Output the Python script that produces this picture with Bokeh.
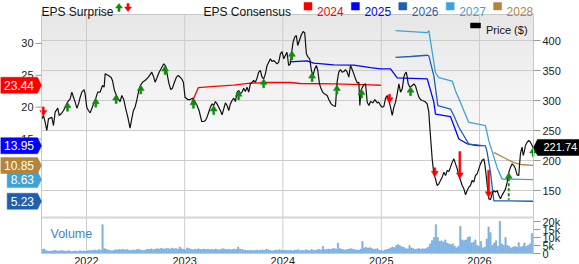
import numpy as np
import pandas as pd
from bokeh.plotting import figure
from bokeh.models import Range1d, Label, PolyAnnotation
from bokeh.core.properties import value
from bokeh.embed import file_html
from bokeh.resources import INLINE

# ---------------- data ----------------
price_year = [
    2021.545, 2021.562, 2021.579, 2021.596, 2021.613, 2021.647, 2021.664, 2021.681, 2021.708, 2021.722,
    2021.742, 2021.766, 2021.783, 2021.810, 2021.834, 2021.851, 2021.868, 2021.885, 2021.902, 2021.919,
    2021.936, 2021.953, 2021.976, 2021.986, 2022.003, 2022.020, 2022.037, 2022.054, 2022.071, 2022.095,
    2022.115, 2022.139, 2022.163, 2022.180, 2022.190, 2022.224, 2022.251, 2022.265, 2022.285, 2022.309,
    2022.326, 2022.343, 2022.360, 2022.380, 2022.400, 2022.421, 2022.444, 2022.461, 2022.478, 2022.495,
    2022.512, 2022.529, 2022.546, 2022.570, 2022.597, 2022.631, 2022.665, 2022.682, 2022.699, 2022.716,
    2022.740, 2022.760, 2022.787, 2022.807, 2022.821, 2022.841, 2022.858, 2022.875, 2022.896, 2022.916,
    2022.936, 2022.970, 2022.987, 2023.004, 2023.031, 2023.055, 2023.079, 2023.099, 2023.123, 2023.147,
    2023.174, 2023.194, 2023.211, 2023.228, 2023.245, 2023.262, 2023.279, 2023.296, 2023.313, 2023.330,
    2023.347, 2023.364, 2023.381, 2023.398, 2023.415, 2023.432, 2023.449, 2023.466, 2023.483, 2023.500,
    2023.517, 2023.534, 2023.551, 2023.567, 2023.584, 2023.601, 2023.618, 2023.635, 2023.652, 2023.669,
    2023.686, 2023.703, 2023.720, 2023.737, 2023.754, 2023.771, 2023.788, 2023.805, 2023.822, 2023.839,
    2023.856, 2023.873, 2023.890, 2023.907, 2023.924, 2023.941, 2023.958, 2023.975, 2023.992, 2024.009,
    2024.025, 2024.042, 2024.059, 2024.076, 2024.090, 2024.104, 2024.120, 2024.137, 2024.151, 2024.168,
    2024.185, 2024.205, 2024.222, 2024.239, 2024.256, 2024.273, 2024.290, 2024.307, 2024.324, 2024.341,
    2024.355, 2024.372, 2024.389, 2024.405, 2024.422, 2024.450, 2024.467, 2024.490, 2024.511, 2024.534,
    2024.551, 2024.568, 2024.585, 2024.602, 2024.619, 2024.636, 2024.653, 2024.670, 2024.687, 2024.704,
    2024.721, 2024.738, 2024.755, 2024.772, 2024.782, 2024.796, 2024.823, 2024.840, 2024.857, 2024.874,
    2024.891, 2024.914, 2024.935, 2024.958, 2024.975, 2024.992, 2025.009, 2025.026, 2025.043, 2025.060,
    2025.077, 2025.094, 2025.111, 2025.128, 2025.145, 2025.162, 2025.179, 2025.196, 2025.213, 2025.230,
    2025.240, 2025.254, 2025.264, 2025.274, 2025.291, 2025.315, 2025.332, 2025.349, 2025.366, 2025.383,
    2025.400, 2025.417, 2025.444, 2025.467, 2025.484, 2025.495, 2025.508, 2025.518, 2025.535, 2025.552,
    2025.569, 2025.586, 2025.603, 2025.620, 2025.637, 2025.654, 2025.671, 2025.688, 2025.705, 2025.722,
    2025.739, 2025.756, 2025.773, 2025.790, 2025.807, 2025.824, 2025.841, 2025.858, 2025.874, 2025.891,
    2025.908, 2025.925, 2025.942, 2025.959, 2025.976, 2025.993, 2026.010, 2026.027, 2026.044, 2026.054,
    2026.068, 2026.081, 2026.095, 2026.112, 2026.129, 2026.146, 2026.163, 2026.180, 2026.197, 2026.214,
    2026.231, 2026.248, 2026.265, 2026.282, 2026.299, 2026.316, 2026.333, 2026.349, 2026.366, 2026.383,
    2026.400, 2026.407, 2026.417, 2026.428, 2026.434, 2026.445, 2026.455, 2026.468, 2026.485, 2026.502,
    2026.519, 2026.536, 2026.546,
]
price_usd = [
    269.4, 275.0, 263.9, 250.0, 269.4, 272.2, 258.3, 280.5, 287.2, 275.0,
    277.8, 283.3, 288.9, 298.3, 302.8, 313.9, 305.5, 297.2, 287.2, 294.4,
    305.5, 313.9, 318.3, 311.1, 288.9, 283.3, 279.4, 286.1, 294.4, 303.9,
    313.9, 314.0, 325.0, 322.2, 344.4, 341.6, 338.3, 333.3, 316.7, 307.2,
    301.6, 298.3, 308.3, 301.6, 286.1, 272.2, 253.9, 269.4, 283.3, 288.9,
    300.0, 313.9, 323.9, 330.5, 333.3, 338.9, 347.2, 340.5, 330.5, 337.2,
    347.2, 352.8, 361.1, 357.2, 344.4, 327.8, 318.3, 320.5, 330.5, 338.9,
    341.6, 336.1, 330.5, 305.5, 301.6, 301.6, 303.9, 300.0, 292.8, 283.3,
    265.0, 265.0, 266.7, 272.2, 280.5, 288.9, 294.4, 291.6, 298.3, 294.4,
    288.9, 283.3, 276.1, 286.1, 296.1, 291.6, 283.3, 294.4, 300.0, 303.9,
    298.3, 313.9, 316.6, 311.1, 313.9, 320.5, 315.0, 322.2, 313.9, 327.8,
    330.5, 333.3, 330.5, 337.2, 347.2, 350.0, 338.9, 336.1, 344.4, 358.3,
    363.9, 369.4, 365.0, 366.6, 363.9, 361.1, 363.9, 377.8, 381.6, 369.4,
    375.0, 380.5, 358.3, 361.1, 380.5, 397.2, 405.5, 408.3, 391.6, 400.0,
    408.3, 415.0, 412.8, 377.8, 372.2, 369.4, 350.0, 341.6, 352.8, 358.3,
    350.0, 327.8, 319.4, 313.9, 311.1, 308.3, 301.6, 294.4, 291.6, 290.0,
    330.5, 347.2, 351.6, 347.2, 348.3, 351.6, 347.2, 338.9, 358.3, 351.6,
    344.4, 336.1, 329.4, 330.5, 291.6, 318.3, 326.1, 327.8, 297.2, 291.6,
    298.3, 296.1, 301.6, 296.1, 297.2, 291.6, 288.9, 290.0, 303.9, 308.3,
    300.0, 288.9, 275.0, 288.9, 297.2, 311.1, 327.8, 313.9, 319.4, 338.9,
    344.4, 347.2, 338.9, 327.8, 322.2, 325.0, 327.8, 323.9, 313.9, 305.5,
    301.6, 300.0, 298.3, 294.4, 280.5, 252.8, 225.0, 202.8, 177.8, 169.4,
    158.3, 161.1, 166.6, 172.2, 180.5, 175.0, 183.3, 181.6, 188.9, 197.2,
    202.8, 194.4, 186.1, 175.0, 166.6, 158.3, 152.8, 142.7, 149.9, 155.5,
    158.3, 166.6, 163.9, 175.0, 177.8, 186.1, 194.4, 200.0, 202.8, 194.4,
    175.0, 155.5, 136.1, 135.0, 144.4, 149.9, 147.2, 149.9, 141.6, 136.1,
    142.7, 147.2, 152.7, 163.9, 180.5, 188.9, 194.4, 191.6, 186.1, 176.1,
    175.0, 191.6, 211.1, 219.4, 222.2, 208.3, 213.9, 225.0, 230.5, 233.3,
    230.5, 225.0, 221.74,
]

eps2024_year = [2023.072, 2023.140, 2023.300, 2023.499, 2023.669, 2023.850, 2024.076, 2024.178, 2024.517, 2024.891, 2024.995]
eps2024 = [20.7, 23.08, 23.25, 23.45, 23.76, 23.87, 23.87, 23.71, 23.66, 23.5, 23.44]

eps2025_year = [2024.069, 2024.246, 2024.313, 2024.517, 2024.721, 2024.891, 2024.992, 2025.094, 2025.162, 2025.468,
                2025.535, 2025.552, 2025.705, 2025.790, 2025.874, 2025.975, 2026.030]
eps2025 = [27.1, 27.25, 26.9, 26.65, 26.6, 26.2, 26.0, 26.0, 24.6, 24.45,
           20.8, 18.9, 18.5, 15.0, 14.25, 13.98, 13.95]

eps2026_year = [2025.145, 2025.298, 2025.468, 2025.484, 2025.535, 2025.576, 2025.705, 2025.739, 2025.790, 2025.891,
                2026.061, 2026.078, 2026.112, 2026.146, 2026.546]
eps2026 = [27.8, 27.95, 28.15, 28.05, 24.9, 20.25, 19.7, 18.65, 16.85, 14.2,
           13.93, 12.9, 9.75, 5.3, 5.23]

eps2027_year = [2025.145, 2025.468, 2025.484, 2025.552, 2025.586, 2025.722, 2025.756, 2025.807, 2025.891, 2026.061,
                2026.095, 2026.180, 2026.231, 2026.546]
eps2027 = [32.0, 31.7, 32.0, 25.4, 24.65, 24.1, 22.55, 20.7, 17.6, 17.1,
           14.7, 10.5, 8.7, 8.63]

eps2028_year = [2026.146, 2026.265, 2026.349, 2026.417, 2026.546]
eps2028 = [12.9, 11.94, 11.3, 11.0, 10.85]

surprise_year = [2021.560, 2021.807, 2022.095, 2022.302, 2022.553, 2022.801, 2023.089, 2023.296, 2023.550, 2023.805,
                 2024.092, 2024.297, 2024.549, 2024.799, 2025.084, 2025.298, 2025.545, 2025.800, 2026.093, 2026.298,
                 2026.546]
surprise_dir = ["down", "up", "up", "up", "up", "up", "up", "up", "up", "up",
                "up", "up", "up", "up", "down", "up", "down", "down", "down", "up",
                "up"]
surprise_big = [False] * 17 + [True, True, True, False]
surprise_dashed = [False] * 19 + [True, False]

volume_start_year = 2021.55
volume_k = (
    [2.5, 2.8, 1.8, 1.5, 1.4, 1.6, 1.7, 2.0, 1.6, 1.5, 1.8, 1.7, 1.5, 1.4, 1.9, 1.3, 1.2, 1.6, 1.5, 1.3, 1.8, 1.4, 1.6, 1.3]
    + [1.6, 1.9, 1.7, 2.0, 2.2, 1.8, 2.4, 2.0, 18.0, 3.0, 2.6, 2.2, 1.8, 1.6, 2.0, 2.4, 2.2, 2.5, 2.3, 2.6, 2.2, 2.5, 2.0, 1.8, 2.2, 2.0, 2.3, 2.6, 2.2]
    + [2.0, 1.8, 2.3, 2.7, 2.5, 2.9, 2.4, 2.6, 3.0, 2.8, 3.2, 3.0, 2.7, 3.3, 3.0, 2.8, 3.4, 2.9, 3.1, 2.6, 4.0, 2.9, 2.5, 2.2]
    + [3.5, 3.0, 2.6, 2.3, 2.7, 2.5, 2.9, 2.4, 2.6, 2.8, 2.5, 2.7, 2.4, 2.6, 2.3, 2.8, 2.5, 2.2, 2.6, 3.0, 2.7, 2.4, 2.6, 2.3, 2.5, 2.8, 2.4, 4.0]
    + [2.8, 2.5, 2.2, 2.0, 1.8, 2.0, 1.9, 1.7, 1.9, 2.1, 1.8, 2.0, 2.2, 1.9, 2.6, 2.3, 1.9, 1.6, 1.8, 2.2, 1.9, 2.4, 2.0, 1.8, 2.1, 1.9]
    + [1.8, 2.0, 1.6, 2.2, 1.9, 2.4, 1.7, 2.0, 1.8, 2.3, 2.0, 1.7, 2.5, 2.1, 1.9, 2.3, 2.6, 2.2, 4.4, 2.4, 2.6, 2.8, 2.5, 2.9, 3.2, 2.7, 6.5]
    + [3.0, 2.7, 2.4, 2.2, 2.5, 2.8, 3.0, 2.6, 2.4, 2.2, 2.0, 2.6, 7.5, 3.5, 3.8, 3.4, 3.6, 3.2, 2.5, 2.8, 3.0, 1.8, 2.0, 1.6, 2.2]
    + [2.5, 2.8, 3.5, 4.0, 3.6, 5.0, 5.6, 4.8, 4.2, 3.8, 3.0, 2.8, 5.0]
    + [3.5, 3.0, 2.5, 2.8, 3.2, 2.6, 3.0, 2.8, 3.2, 4.0, 6.0, 8.0, 10.0, 18.0]
    + [10.0, 7.5, 8.0, 7.0, 8.5, 6.5, 6.0, 5.5, 6.0, 4.5, 3.5, 4.5, 17.0]
    + [8.5, 8.0, 8.5, 10.0, 10.5, 6.5, 7.0, 8.5, 5.0]
    + [4.4, 7.5, 3.5, 4.0, 9.0, 16.5, 13.0, 5.0, 6.5, 8.0, 4.5, 20.0, 6.0, 5.0, 10.0, 5.0, 4.4, 3.5, 4.0, 4.4,
       4.0, 6.7, 4.0, 4.5, 6.5, 4.4, 5.0, 6.0, 12.5]
)

consensus_years = ["2024", "2025", "2026", "2027", "2028"]
consensus_final = [23.44, 13.95, 5.23, 8.63, 10.85]
last_price = 221.74
year_ticks = [2022, 2023, 2024, 2025, 2026]
eps_ticks = [15, 20, 25, 30]
price_ticks = [150, 200, 250, 300, 350, 400]
volume_ticks_k = [0, 5, 10, 15, 20]

# ---------------- styling / geometry ----------------
C_2024, C_2025, C_2026, C_2027, C_2028 = "#ff0000", "#0000ff", "#1f5fae", "#3fa2d6", "#b5843c"
cons_colors = [C_2024, C_2025, C_2026, C_2027, C_2028]
GREEN, RED = "#118a11", "#ff0000"
FONT = "Liberation Sans"
GRID = "#cccccc"

W, H = 579, 264
FL, FR, FT, FB = 41, 533, 14, 253   # plot-area box inside the canvas (px)


def yr2ms(y):
    yi = int(np.floor(y))
    a = pd.Timestamp(yi, 1, 1)
    b = pd.Timestamp(yi + 1, 1, 1)
    return (a + (b - a) * (y - yi)).value / 1e6


XL, XR = yr2ms(2021.542), yr2ms(2026.550)   # dates at the plot-area edges
MSPX = (XR - XL) / (FR - FL)


def X(px):
    return XL + (px - FL) * MSPX


def U(py):
    return H - py


# price scale: 400 at y=40, 30px per 50
P_PX = 5.0 / 3.0
P_AT0 = 400 - U(40) * P_PX
# eps scale: 15 at y=138.5, 6.37 px per unit
E_PX = 6.37
E_AT0 = 15 - U(138.5) / E_PX
# volume scale: 0 at y=253, 20k at y=221
V_PX = 32 / 20.0
V_AT0 = -U(253) / V_PX


def eps_u(v):
    return (v - E_AT0) * E_PX


def price_u(v):
    return (v - P_AT0) / P_PX


p = figure(width=W, height=H, x_range=Range1d(X(0), X(W)), y_range=Range1d(0, H),
           x_axis_type=None, y_axis_type=None, toolbar_location=None, output_backend="svg",
           min_border=0, min_border_left=0, min_border_right=0, min_border_top=0, min_border_bottom=0)
p.extra_y_ranges = {"eps": Range1d(E_AT0, E_AT0 + H / E_PX),
                    "price": Range1d(P_AT0, P_AT0 + H * P_PX),
                    "vol": Range1d(V_AT0, V_AT0 + H / V_PX)}
p.outline_line_color = None
p.background_fill_color = "white"
p.border_fill_color = "white"

# gradient background in upper part of the plot area
g_top, g_bot, g_col = [], [], []
n_bands = 116
for k in range(n_bands):
    t = U(FT) - k
    g_top.append(t)
    g_bot.append(t - 1.3)
    g = int(round(227 + (248 - 227) * k / (n_bands - 1)))
    g_col.append("#%02x%02x%02x" % (g, g, g))
p.quad(left=X(FL), right=X(FR), top=g_top, bottom=g_bot, fill_color=g_col, line_color=None)

# grid lines
yr_ms = [yr2ms(y) for y in year_ticks]
p.segment(x0=yr_ms, x1=yr_ms, y0=U(FB), y1=U(FT), line_color=GRID, line_width=1)
p.segment(x0=X(FL), x1=X(FR), y0=price_ticks, y1=price_ticks, y_range_name="price", line_color=GRID, line_width=1)
p.segment(x0=[X(FL)], x1=[X(FR)], y0=[U(217)], y1=[U(217)], line_color="#d6d6d6", line_width=2)

# volume bars
vol_x = [yr2ms(volume_start_year) + i * 7 * 86400000 for i in range(len(volume_k))]
p.vbar(x=vol_x, top=volume_k, bottom=0, width=4.6 * 86400000, y_range_name="vol",
       fill_color="#95c0ea", line_color="#5c9ddb", line_width=0.6)

# consensus lines
for yrs, vals, col in [(eps2024_year, eps2024, C_2024), (eps2025_year, eps2025, C_2025),
                       (eps2026_year, eps2026, C_2026), (eps2027_year, eps2027, C_2027),
                       (eps2028_year, eps2028, C_2028)]:
    p.line([yr2ms(y) for y in yrs], vals, y_range_name="eps", line_color=col, line_width=1.3)

# price line
p.line([yr2ms(y) for y in price_year], price_usd, y_range_name="price", line_color="#111111", line_width=1.2)

# surprise arrows
HEAD_H, HEAD_HW, STEM_HW = 5.5, 3.5, 1.0
solid_xs, solid_ys, solid_c = [], [], []
dash_x0, dash_y0, dash_x1, dash_y1, dash_c = [], [], [], [], []
for yr, d, big, dashed in zip(surprise_year, surprise_dir, surprise_big, surprise_dashed):
    xm = yr2ms(yr)
    tip = float(np.interp(yr, price_year, price_usd))
    s = -1 if d == "up" else 1
    L = (27 if big else 9) * P_PX
    hh = HEAD_H * P_PX
    col = GREEN if d == "up" else RED
    if dashed:
        solid_xs.append([xm, xm + HEAD_HW * MSPX, xm - HEAD_HW * MSPX])
        solid_ys.append([tip, tip + s * hh, tip + s * hh])
        solid_c.append(col)
        dash_x0.append(xm); dash_x1.append(xm)
        dash_y0.append(tip + s * hh); dash_y1.append(tip + s * L)
        dash_c.append(col)
    else:
        solid_xs.append([xm, xm + HEAD_HW * MSPX, xm + STEM_HW * MSPX, xm + STEM_HW * MSPX,
                         xm - STEM_HW * MSPX, xm - STEM_HW * MSPX, xm - HEAD_HW * MSPX])
        solid_ys.append([tip, tip + s * hh, tip + s * hh, tip + s * L, tip + s * L, tip + s * hh, tip + s * hh])
        solid_c.append(col)
p.segment(x0=dash_x0, y0=dash_y0, x1=dash_x1, y1=dash_y1, y_range_name="price",
          line_color=dash_c, line_width=2, line_dash="3 2")
p.patches(solid_xs, solid_ys, y_range_name="price", fill_color=solid_c, line_color=solid_c, line_width=0.5)

# plot-area outline
p.quad(left=[X(FL)], right=[X(FR)], bottom=[U(FB)], top=[U(FT)], fill_color=None,
       line_color="#c8c8c8", line_width=1)

# axis ticks and tick labels (left: EPS, right: price and volume)
TICK = "#999999"
p.segment(x0=X(35), x1=X(FL), y0=eps_ticks, y1=eps_ticks, y_range_name="eps", line_color=TICK)
p.text(x=X(33), y=eps_ticks, text=[str(t) for t in eps_ticks], y_range_name="eps",
       text_align="right", text_baseline="middle", text_font=value(FONT), text_font_size="11px",
       text_color="#222222")
p.segment(x0=X(FR), x1=X(540), y0=price_ticks, y1=price_ticks, y_range_name="price", line_color=TICK)
p.text(x=X(542), y=price_ticks, text=[str(t) for t in price_ticks], y_range_name="price",
       text_align="left", text_baseline="middle", text_font=value(FONT), text_font_size="11px",
       text_color="#222222")
p.segment(x0=X(FR), x1=X(540), y0=volume_ticks_k, y1=volume_ticks_k, y_range_name="vol", line_color=TICK)
p.text(x=X(542), y=volume_ticks_k, text=[("0" if v == 0 else "%dk" % v) for v in volume_ticks_k],
       y_range_name="vol", text_align="left", text_baseline="middle", text_font=value(FONT),
       text_font_size="11px", text_color="#222222")
p.text(x=yr_ms, y=U(260), text=[str(y) for y in year_ticks], text_align="center",
       text_baseline="alphabetic", text_font=value(FONT), text_font_size="11px", text_color="#222222")


def label(x_px, y_px, text, size="12px", color="#111111", align="left", baseline="alphabetic"):
    p.add_layout(Label(x=X(x_px), y=U(y_px), text=text, text_font=FONT, text_font_size=size,
                       text_color=color, text_align=align, text_baseline=baseline))


def poly_u(xs_px, us, color):
    p.add_layout(PolyAnnotation(xs=[X(a) for a in xs_px], ys=list(us),
                                fill_color=color, fill_alpha=1.0, line_color=color, line_alpha=1.0,
                                line_width=0.5))


def poly(pts_px, color):
    poly_u([a for a, b in pts_px], [U(b) for a, b in pts_px], color)


def arrow_px(cx, y_tip, y_base, color):
    s = 1 if y_base > y_tip else -1
    hb = y_tip + s * 4.5
    poly([(cx, y_tip), (cx + 3.5, hb), (cx + 1.1, hb), (cx + 1.1, y_base), (cx - 1.1, y_base),
          (cx - 1.1, hb), (cx - 3.5, hb)], color)


# header
label(41, 11, "EPS Surprise")
arrow_px(118.5, 3, 11, GREEN)
arrow_px(127.5, 11, 3, RED)
label(203, 11, "EPS Consensus")
for i, (yl, col) in enumerate(zip(consensus_years, cons_colors)):
    x = 303.5 + 47.4 * i
    poly([(x, 2), (x + 8, 2), (x + 8, 9.5), (x, 9.5)], col)
    label(x + 13, 10.5, yl, color=col)

# price legend
poly([(470, 22.5), (480, 22.5), (480, 27.5), (470, 27.5)], "#000000")
label(485.5, 29, "Price ($)", size="11px")

# volume title
label(50, 233, "Volume", size="12.5px", color="#3d85c6")

# left consensus badges (value -> position through the EPS scale)
for v, col in zip(consensus_final, cons_colors):
    txt = "%.2f" % v
    w = 6.67 * sum(ch.isdigit() for ch in txt) + 3.33 * txt.count(".") + 7
    left = max(0.0, 37 - w)
    uc = eps_u(v)
    poly_u([left, 37, 41, 37, left], [uc + 8, uc + 8, uc, uc - 8, uc - 8], col)
    p.add_layout(Label(x=X((left + 37) / 2), y=uc, text=txt, text_font=FONT,
                       text_font_size="12px", text_color="white", text_align="center",
                       text_baseline="middle"))

# right price badge (value -> position through the price scale)
uc = price_u(last_price)
poly_u([533, 537, W + 2, W + 2, 537], [uc, uc + 8, uc + 8, uc - 8, uc - 8], "#000000")
p.add_layout(Label(x=X(543), y=uc, text="%.2f" % last_price,
                   text_font=FONT, text_font_size="11px", text_color="white",
                   text_align="left", text_baseline="middle"))

open("out.html", "w").write(file_html(p, INLINE))
